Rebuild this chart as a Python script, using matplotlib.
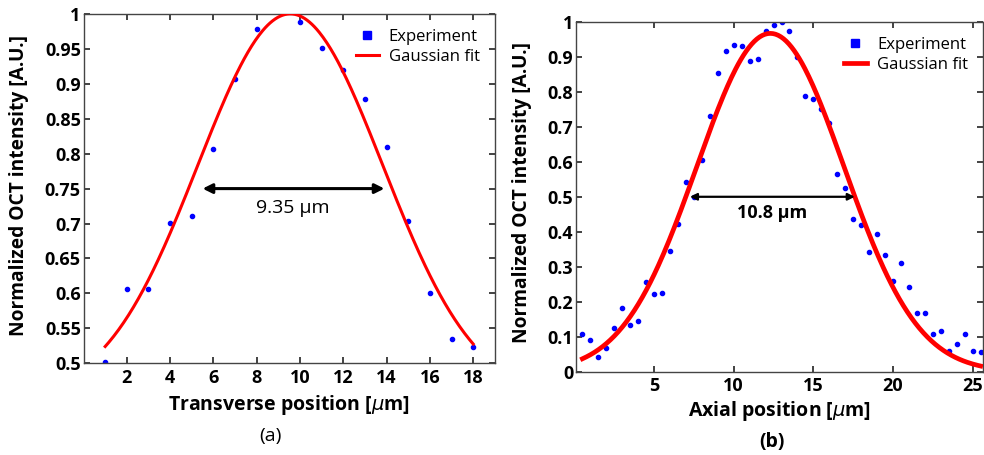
import numpy as np
import matplotlib
matplotlib.use('Agg')
import matplotlib.pyplot as plt
from matplotlib.lines import Line2D

plt.rcParams['font.family'] = ['Open Sans', 'DejaVu Sans']
plt.rcParams['mathtext.fontset'] = 'dejavusans'

# ---------------------------------------------------------------------
# (a) transverse profile

trans_x = [1, 2, 3, 4, 5, 6, 7, 8, 10, 11, 12, 13, 14, 15, 16, 17, 18]
trans_y = [0.502, 0.607, 0.607, 0.701, 0.711, 0.807, 0.907, 0.978,
           0.989, 0.951, 0.919, 0.878, 0.809, 0.703, 0.600, 0.535, 0.524]

# gaussian fit: offset + amp * exp(-(x - center)^2 / (2 sigma^2))
trans_fit = {'offset': 0.45, 'amp': 0.55, 'center': 9.55, 'sigma': 4.27}
trans_fwhm_label = '9.35 μm'

# ---------------------------------------------------------------------
# (b) axial profile

axial_x = [0.5, 1.0, 1.5, 2.0, 2.5, 3.0, 3.5, 4.0, 4.5, 5.0, 5.5, 6.0, 6.5,
           7.0, 7.5, 8.0, 8.5, 9.0, 9.5, 10.0, 10.5, 11.0, 11.5, 12.0, 12.5,
           13.0, 13.5, 14.0, 14.5, 15.0, 15.5, 16.0, 16.5, 17.0, 17.5, 18.0,
           18.5, 19.0, 19.5, 20.0, 20.5, 21.0, 21.5, 22.0, 22.5, 23.0, 23.5,
           24.0, 24.5, 25.0, 25.5]
axial_y = [0.107, 0.092, 0.041, 0.069, 0.126, 0.183, 0.134, 0.146, 0.257,
           0.223, 0.225, 0.346, 0.422, 0.543, 0.498, 0.604, 0.730, 0.855,
           0.917, 0.935, 0.930, 0.888, 0.894, 0.973, 0.990, 1.000, 0.974,
           0.900, 0.788, 0.780, 0.752, 0.711, 0.566, 0.526, 0.436, 0.419,
           0.341, 0.394, 0.334, 0.259, 0.312, 0.241, 0.169, 0.169, 0.109,
           0.115, 0.060, 0.078, 0.107, 0.060, 0.056]

axial_fit = {'offset': 0.0, 'amp': 0.967, 'center': 12.3, 'sigma': 4.62}
axial_fwhm_label = '10.8 μm'

# ---------------------------------------------------------------------

def gauss(x, p):
    return p['offset'] + p['amp'] * np.exp(-(x - p['center']) ** 2 / (2 * p['sigma'] ** 2))


def style_axes(ax):
    for s in ax.spines.values():
        s.set_color('#444444')
        s.set_linewidth(1.0)
    ax.tick_params(direction='in', top=True, right=True, length=4, width=1.2,
                   color='#222222', labelsize=13, pad=2)
    ax.tick_params(axis='x', pad=4)
    for lab in ax.get_xticklabels() + ax.get_yticklabels():
        lab.set_fontweight('bold')


def legend_handles(lw):
    return [Line2D([], [], ls='none', marker='s', ms=6, color='blue'),
            Line2D([], [], color='red', lw=lw)]


fig = plt.figure(figsize=(9.84, 4.55), dpi=100)

# ----- panel (a)
ax1 = fig.add_axes([0.0849, 0.2015, 0.418, 0.768])
xf = np.linspace(trans_x[0], trans_x[-1], 300)
ax1.plot(trans_x, trans_y, ls='none', marker='o', ms=3.0, color='blue', zorder=2)
ax1.plot(xf, gauss(xf, trans_fit), color='red', lw=2.2, zorder=3)
ax1.set_xlim(0, 19)
ax1.set_ylim(0.5, 1)
ax1.set_xticks([2, 4, 6, 8, 10, 12, 14, 16, 18])
ax1.set_yticks([0.5, 0.55, 0.6, 0.65, 0.7, 0.75, 0.8, 0.85, 0.9, 0.95, 1])
ax1.set_yticklabels(['0.5', '0.55', '0.6', '0.65', '0.7', '0.75', '0.8',
                     '0.85', '0.9', '0.95', '1'])
style_axes(ax1)
ax1.annotate('', xy=(5.5, 0.75), xytext=(13.9, 0.75),
             arrowprops=dict(arrowstyle='<|-|>', color='black', lw=2.2,
                             mutation_scale=14, shrinkA=0, shrinkB=0))
ax1.text(9.65, 0.722, trans_fwhm_label, ha='center', va='center', fontsize=14)
ax1.set_xlabel('Transverse position [$\\mu$m]', fontsize=14, fontweight='bold')
ax1.set_ylabel('Normalized OCT intensity [A.U.]', fontsize=13.8,
               fontweight='bold')
ax1.xaxis.set_label_coords(0.5, -0.085)
ax1.yaxis.set_label_coords(-0.132, 0.51)
ax1.legend(legend_handles(2.2), ['Experiment', 'Gaussian fit'], frameon=False,
           loc='upper right', bbox_to_anchor=(1.0, 1.0), fontsize=12,
           handlelength=1.4, handletextpad=0.6, labelspacing=0.25,
           borderaxespad=0.5)
fig.text(270 / 984, 1 - 436 / 455, '(a)', ha='center', va='center', fontsize=14)

# ----- panel (b)
ax2 = fig.add_axes([0.5854, 0.183, 0.4136, 0.769])
xf2 = np.linspace(axial_x[0], axial_x[-1], 300)
ax2.plot(axial_x, axial_y, ls='none', marker='o', ms=3.0, color='blue', zorder=2)
ax2.plot(xf2, gauss(xf2, axial_fit), color='red', lw=3.4, zorder=3)
ax2.set_xlim(0.1, 25.65)
ax2.set_ylim(0, 1)
ax2.set_xticks([5, 10, 15, 20, 25])
ax2.set_yticks([0, 0.1, 0.2, 0.3, 0.4, 0.5, 0.6, 0.7, 0.8, 0.9, 1])
ax2.set_yticklabels(['0', '0.1', '0.2', '0.3', '0.4', '0.5', '0.6', '0.7',
                     '0.8', '0.9', '1'])
style_axes(ax2)
ax2.annotate('', xy=(7.25, 0.5), xytext=(17.6, 0.5),
             arrowprops=dict(arrowstyle='<|-|>', color='black', lw=1.6,
                             mutation_scale=10, shrinkA=0, shrinkB=0))
ax2.text(12.4, 0.455, axial_fwhm_label, ha='center', va='center', fontsize=13,
         fontweight='bold')
ax2.set_xlabel('Axial position [$\\mu$m]', fontsize=14, fontweight='bold')
ax2.set_ylabel('Normalized OCT intensity [A.U.]', fontsize=13.8,
               fontweight='bold')
ax2.xaxis.set_label_coords(0.5, -0.079)
ax2.yaxis.set_label_coords(-0.108, 0.513)
ax2.legend(legend_handles(3.4), ['Experiment', 'Gaussian fit'], frameon=False,
           loc='upper right', bbox_to_anchor=(1.0, 1.0), fontsize=12,
           handlelength=1.4, handletextpad=0.6, labelspacing=0.25,
           borderaxespad=0.5)
fig.text(772 / 984, 1 - 442 / 455, '(b)', ha='center', va='center', fontsize=14,
         fontweight='bold')

fig.savefig('out.png', dpi=100)
